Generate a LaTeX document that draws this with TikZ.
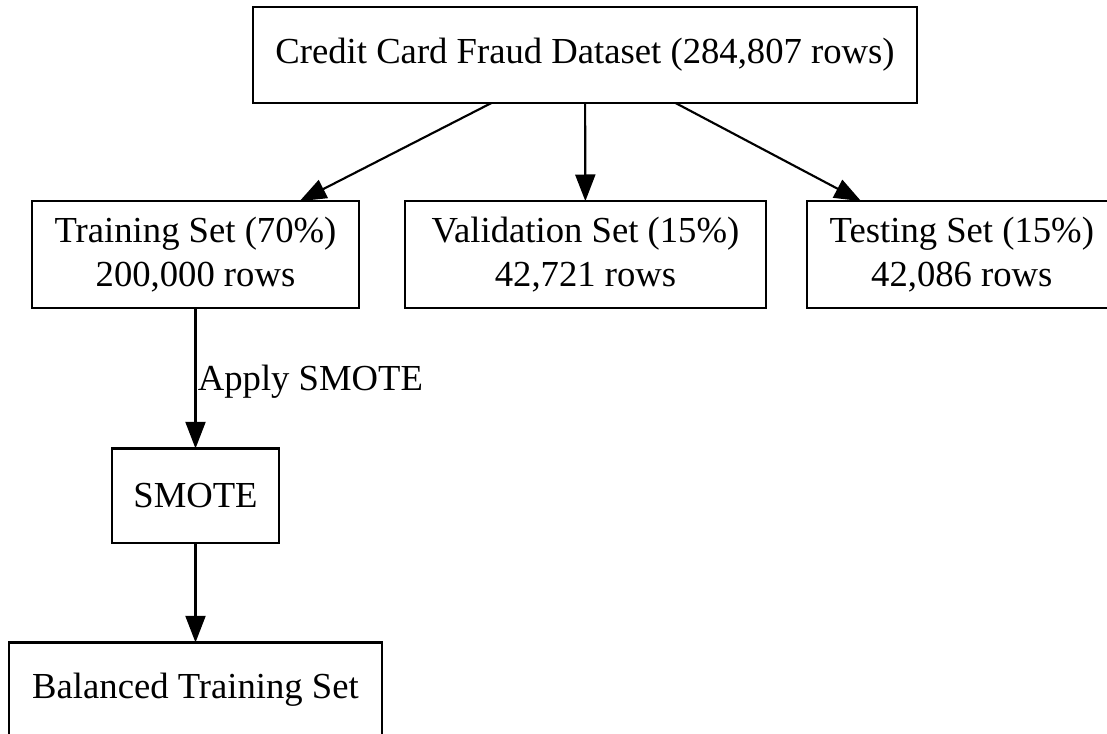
\documentclass[tikz,border=0pt]{standalone}
\usepackage{fontspec}
\setmainfont{Liberation Serif}
\usepackage{tikz}
\usetikzlibrary{arrows.meta,positioning}

\begin{document}
\begin{tikzpicture}[
    x=0.75pt, y=-0.75pt,
    every node/.style={
        font=\fontsize{27.5}{33}\selectfont
    },
    box/.style={
        draw,
        rectangle,
        line width=1.6pt,
        align=center,
        inner sep=0pt,
        outer sep=0pt
    },
    arrow/.style={-{Triangle[length=20pt,width=15pt]}, line width=1.6pt}
]

\useasboundingbox (0,0) rectangle (1107,734);

%-----------------------------------------------
% ROW 1: Dataset
%-----------------------------------------------
\node[box, minimum width=498pt, minimum height=72pt]
    (dataset) at (585,55) {Credit Card Fraud Dataset (284,807 rows)};

%-----------------------------------------------
% ROW 2: Splits
%-----------------------------------------------
\node[box, minimum width=245pt, minimum height=80pt]
    (train) at (195.5,254.5) {Training Set (70\%)\\200,000 rows};

\node[box, minimum width=271pt, minimum height=80pt,
      right=34.5pt of train]
    (valid) {Validation Set (15\%)\\42,721 rows};

\node[box, minimum width=232.5pt, minimum height=80pt,
      right=30.5pt of valid]
    (test) {Testing Set (15\%)\\42,086 rows};

%-----------------------------------------------
% COLUMN 1: Oversampling
%-----------------------------------------------
\node[box, minimum width=125pt, minimum height=71pt,
      below=105.5pt of train]
    (smote) {SMOTE};

\node[box, minimum width=280pt, minimum height=70.5pt,
      below=74.5pt of smote]
    (balanced) {Balanced Training Set};

%-----------------------------------------------
% ARROWS
%-----------------------------------------------
\draw[arrow] (dataset) -- (train);
\draw[arrow] (dataset) -- (valid);
\draw[arrow] (dataset) -- (test);
\draw[arrow] (train) -- node[right, inner sep=1pt, yshift=-3pt] {Apply SMOTE} (smote);
\draw[arrow] (smote) -- (balanced);

\end{tikzpicture}
\end{document}
